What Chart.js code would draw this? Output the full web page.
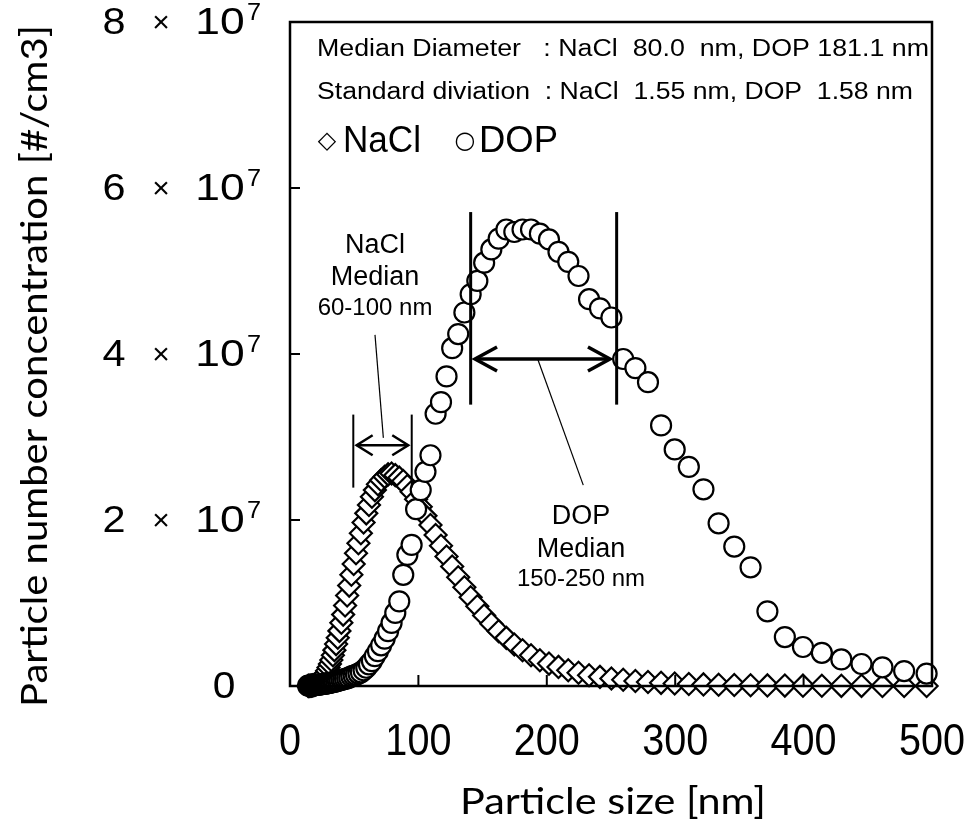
<!DOCTYPE html>
<html>
<head>
<meta charset="utf-8">
<script src="https://cdn.jsdelivr.net/npm/chart.js@4/dist/chart.umd.min.js"></script>
<style>
html,body{margin:0;padding:0;background:#fff;}
#wrap{width:974px;height:827px;}
</style>
</head>
<body>
<div id="wrap"><canvas id="c" width="974" height="827"></canvas></div>
<script>
// ---------- DATA ----------
const particleSize = [
  14.1,14.6,15.1,15.7,16.3,16.8,17.5,18.1,18.8,19.5,
  20.2,20.9,21.7,22.5,23.3,24.1,25.0,25.9,26.9,27.9,
  28.9,30.0,31.1,32.2,33.4,34.6,35.9,37.2,38.5,40.0,
  41.4,42.9,44.5,46.1,47.8,49.6,51.4,53.3,55.2,57.3,
  59.4,61.5,63.8,66.1,68.5,71.0,73.7,76.4,79.1,82.0,
  85.1,88.2,91.4,94.7,98.2,101.8,105.5,109.4,113.4,117.6,
  121.9,126.3,131.0,135.8,140.7,145.9,151.2,156.8,162.5,168.5,
  174.7,181.1,187.7,194.6,201.7,209.1,216.7,224.7,232.9,241.4,
  250.3,259.5,269.0,278.8,289.0,299.6,310.6,322.0,333.8,346.0,
  358.7,371.8,385.4,399.5,414.2,429.4,445.1,461.4,478.3,495.8
];
const naclConc = [
  0.001e7,0.0015e7,0.002e7,0.003e7,0.004e7,0.005e7,0.007e7,0.009e7,0.012e7,0.016e7,
  0.020e7,0.026e7,0.033e7,0.042e7,0.053e7,0.065e7,0.081e7,0.100e7,0.124e7,0.152e7,
  0.183e7,0.222e7,0.265e7,0.313e7,0.370e7,0.432e7,0.505e7,0.582e7,0.664e7,0.763e7,
  0.86e7,0.97e7,1.09e7,1.21e7,1.34e7,1.47e7,1.60e7,1.72e7,1.84e7,1.97e7,
  2.08e7,2.18e7,2.28e7,2.36e7,2.43e7,2.48e7,2.52e7,2.55e7,2.56e7,2.54e7,
  2.51e7,2.47e7,2.41e7,2.34e7,2.25e7,2.16e7,2.05e7,1.94e7,1.82e7,1.69e7,
  1.56e7,1.44e7,1.31e7,1.19e7,1.07e7,0.96e7,0.85e7,0.75e7,0.66e7,0.58e7,
  0.50e7,0.43e7,0.37e7,0.31e7,0.27e7,0.23e7,0.19e7,0.16e7,0.13e7,0.11e7,
  0.09e7,0.075e7,0.06e7,0.048e7,0.038e7,0.03e7,0.024e7,0.019e7,0.015e7,0.012e7,
  0.009e7,0.007e7,0.005e7,0.004e7,0.003e7,0.002e7,0.002e7,0.001e7,0.001e7,0.001e7
];
const dopConc = [
  0.004e7,0.004e7,0.005e7,0.006e7,0.006e7,0.007e7,0.008e7,0.009e7,0.010e7,0.011e7,
  0.012e7,0.013e7,0.015e7,0.016e7,0.018e7,0.020e7,0.022e7,0.024e7,0.026e7,0.029e7,
  0.032e7,0.035e7,0.038e7,0.042e7,0.046e7,0.050e7,0.055e7,0.060e7,0.066e7,0.072e7,
  0.078e7,0.085e7,0.093e7,0.100e7,0.115e7,0.125e7,0.135e7,0.150e7,0.165e7,0.19e7,
  0.22e7,0.26e7,0.30e7,0.36e7,0.42e7,0.49e7,0.57e7,0.66e7,0.76e7,0.88e7,
  1.02e7,1.34e7,1.58e7,1.70e7,2.13e7,2.36e7,2.58e7,2.78e7,3.28e7,3.42e7,
  3.73e7,4.07e7,4.24e7,4.50e7,4.72e7,4.88e7,5.10e7,5.26e7,5.39e7,5.50e7,
  5.47e7,5.50e7,5.50e7,5.45e7,5.38e7,5.23e7,5.11e7,4.94e7,4.66e7,4.55e7,
  4.44e7,3.94e7,3.83e7,3.66e7,3.14e7,2.85e7,2.64e7,2.37e7,1.96e7,1.68e7,
  1.43e7,0.90e7,0.59e7,0.47e7,0.40e7,0.32e7,0.265e7,0.225e7,0.18e7,0.15e7
];
const seriesNames = ['NaCl', 'DOP'];
const xTickValues = [0, 100, 200, 300, 400, 500];
const yTickValues = [0, 2e7, 4e7, 6e7, 8e7];
const yTickMantissas = ['0', '2', '4', '6', '8'];
const xTitle = 'Particle size [nm]';
const yTitle = 'Particle number concentration [#/cm3]';
const infoLines = [
  'Median Diameter   : NaCl  80.0  nm, DOP 181.1 nm',
  'Standard diviation  : NaCl  1.55 nm, DOP  1.58 nm'
];

// ---------- STYLE / ANNOTATION CONFIG ----------
const ARIAL = '"Liberation Sans", Arial, sans-serif';
const TITLEF = 'Lato, "Open Sans", sans-serif';
const annot = {
  nacl: {
    bounds: { xs: [49.3, 94.8], y0: 2.39e7, y1: 3.27e7, lw: 2 },
    arrow: { x0: 51.9, x1: 92.1, y: 2.9e7, head: 16, half: 10, lw: 2.5 },
    leader: { x0: 66.2, y0: 4.23e7, x1: 72.7, y1: 2.99e7, lw: 1.2 },
    label: { x: 66.2, rows: [['NaCl', 5.31e7, 27], ['Median', 4.92e7, 27], ['60-100 nm', 4.55e7, 24]] }
  },
  dop: {
    bounds: { xs: [140.7, 254.4], y0: 3.39e7, y1: 5.71e7, lw: 3 },
    arrow: { x0: 144.1, x1: 249.2, y: 3.94e7, head: 22, half: 12, lw: 3.5 },
    leader: { x0: 193.1, y0: 3.93e7, x1: 228.4, y1: 2.42e7, lw: 1.2 },
    label: { x: 226.6, rows: [['DOP', 2.04e7, 27], ['Median', 1.65e7, 27], ['150-250 nm', 1.28e7, 24]] }
  }
};

function drawText(ctx, s, x, y, size, family, align, sx, baseline) {
  ctx.save();
  ctx.font = size + 'px ' + family;
  ctx.textBaseline = baseline || 'middle';
  ctx.textAlign = align || 'left';
  ctx.translate(x, y);
  ctx.scale(sx || 1, 1);
  ctx.fillText(s, 0, 0);
  ctx.restore();
}
function fitScale(ctx, s, size, family, target) {
  ctx.save();
  ctx.font = size + 'px ' + family;
  const w = ctx.measureText(s).width;
  ctx.restore();
  return target / w;
}
function dblArrow(ctx, x0, x1, y, head, half, lw) {
  ctx.lineWidth = lw;
  ctx.beginPath(); ctx.moveTo(x0, y); ctx.lineTo(x1, y); ctx.stroke();
  ctx.beginPath();
  ctx.moveTo(x0 + head, y - half); ctx.lineTo(x0, y); ctx.lineTo(x0 + head, y + half);
  ctx.moveTo(x1 - head, y - half); ctx.lineTo(x1, y); ctx.lineTo(x1 - head, y + half);
  ctx.stroke();
}

const decor = {
  id: 'decor',
  afterDatasetsDraw(chart) {
    const { ctx, chartArea: a, scales } = chart;
    const xs = scales.x, ys = scales.y;
    const px = v => xs.getPixelForValue(v), py = v => ys.getPixelForValue(v);
    ctx.save();
    ctx.fillStyle = '#000';
    ctx.strokeStyle = '#000';
    ctx.lineCap = 'butt';
    ctx.lineJoin = 'miter';

    // annotations (range markers)
    [annot.nacl, annot.dop].forEach(g => {
      ctx.lineWidth = g.bounds.lw;
      g.bounds.xs.forEach(xv => {
        ctx.beginPath();
        ctx.moveTo(px(xv), py(g.bounds.y0));
        ctx.lineTo(px(xv), py(g.bounds.y1));
        ctx.stroke();
      });
      dblArrow(ctx, px(g.arrow.x0), px(g.arrow.x1), py(g.arrow.y), g.arrow.head, g.arrow.half, g.arrow.lw);
      ctx.lineWidth = g.leader.lw;
      ctx.beginPath();
      ctx.moveTo(px(g.leader.x0), py(g.leader.y0));
      ctx.lineTo(px(g.leader.x1), py(g.leader.y1));
      ctx.stroke();
      g.label.rows.forEach(r => drawText(ctx, r[0], px(g.label.x), py(r[1]), r[2], ARIAL, 'center', 1));
    });

    // frame
    ctx.lineWidth = 2.5;
    ctx.strokeRect(a.left, a.top, a.right - a.left, a.bottom - a.top);

    // inward tick marks
    ctx.lineWidth = 2;
    yTickValues.forEach(v => {
      if (v > ys.min && v < ys.max) {
        ctx.beginPath(); ctx.moveTo(a.left, py(v)); ctx.lineTo(a.left + 10, py(v)); ctx.stroke();
      }
    });
    xTickValues.forEach(v => {
      if (v > xs.min && v < xs.max) {
        ctx.beginPath(); ctx.moveTo(px(v), a.bottom); ctx.lineTo(px(v), a.bottom - 11); ctx.stroke();
      }
    });

    // x tick labels
    xTickValues.forEach(v => drawText(ctx, String(v), px(v), a.bottom + 57, 45, ARIAL, 'center', 0.88));

    // y tick labels  "n × 10^7"
    yTickValues.forEach((v, i) => {
      const y = py(v) + 2;
      const m = yTickMantissas[i];
      if (m === '0') {
        drawText(ctx, '0', a.left - 66, y, 37, ARIAL, 'center', 1.1);
      } else {
        drawText(ctx, m, a.left - 176, y, 37, ARIAL, 'center', 1.12);
        drawText(ctx, '\u00d7', a.left - 129, y, 30, ARIAL, 'center', 1.0);
        drawText(ctx, '10', a.left - 70, y, 37, ARIAL, 'center', 1.2);
        drawText(ctx, '7', a.left - 36, y - 4, 23, ARIAL, 'center', 1.1, 'alphabetic');
      }
    });

    // axis titles
    const sxX = fitScale(ctx, xTitle, 36, TITLEF, 306);
    drawText(ctx, xTitle, 613, a.bottom + 116, 36, TITLEF, 'center', sxX);
    ctx.save();
    ctx.translate(35, 366);
    ctx.rotate(-Math.PI / 2);
    const sxY = fitScale(ctx, yTitle, 37, TITLEF, 682);
    drawText(ctx, yTitle, 0, 0, 37, TITLEF, 'center', sxY);
    ctx.restore();

    // info text
    const w1 = [612, 596];
    infoLines.forEach((s, i) => {
      const sx = fitScale(ctx, s, 23, ARIAL, w1[i]);
      drawText(ctx, s, a.left + 27, a.top + 28 + i * 43, 23, ARIAL, 'left', sx);
    });
    // legend line
    const ly = a.top + 120;
    drawText(ctx, '\u25c7', a.left + 37, ly, 24, '"DejaVu Sans", sans-serif', 'center', 1);
    drawText(ctx, seriesNames[0], a.left + 53, ly, 37, ARIAL, 'left', fitScale(ctx, seriesNames[0], 37, ARIAL, 78));
    drawText(ctx, '\u25cb', a.left + 175, ly, 24, '"DejaVu Sans", sans-serif', 'center', 1);
    drawText(ctx, seriesNames[1], a.left + 189, ly, 37, ARIAL, 'left', fitScale(ctx, seriesNames[1], 37, ARIAL, 79));

    ctx.restore();
  }
};

const toPoints = vals => particleSize.map((d, i) => ({ x: d, y: vals[i] }));

new Chart(document.getElementById('c'), {
  type: 'scatter',
  data: {
    datasets: [
      {
        label: seriesNames[1], data: toPoints(dopConc), order: 1, clip: false,
        pointStyle: 'circle', pointRadius: 10, pointHoverRadius: 10,
        pointBorderWidth: 2.2, pointBorderColor: '#000', pointBackgroundColor: '#fff',
        borderColor: '#000', backgroundColor: '#fff'
      },
      {
        label: seriesNames[0], data: toPoints(naclConc), order: 2, clip: false,
        pointStyle: 'rectRot', pointRadius: 11, pointHoverRadius: 11,
        pointBorderWidth: 2.2, pointBorderColor: '#000', pointBackgroundColor: '#fff',
        borderColor: '#000', backgroundColor: '#fff'
      }
    ]
  },
  options: {
    responsive: false,
    animation: false,
    devicePixelRatio: 1,
    events: [],
    layout: { padding: { left: 0, right: 42, top: 22, bottom: 0 } },
    plugins: { legend: { display: false }, tooltip: { enabled: false } },
    scales: {
      x: {
        type: 'linear', min: 0, max: 500,
        ticks: { display: false }, grid: { display: false }, border: { display: false },
        afterFit(s) { s.height = 141; }
      },
      y: {
        type: 'linear', min: 0, max: 8e7,
        ticks: { display: false }, grid: { display: false }, border: { display: false },
        afterFit(s) { s.width = 290; }
      }
    }
  },
  plugins: [decor]
});
</script>
</body>
</html>
